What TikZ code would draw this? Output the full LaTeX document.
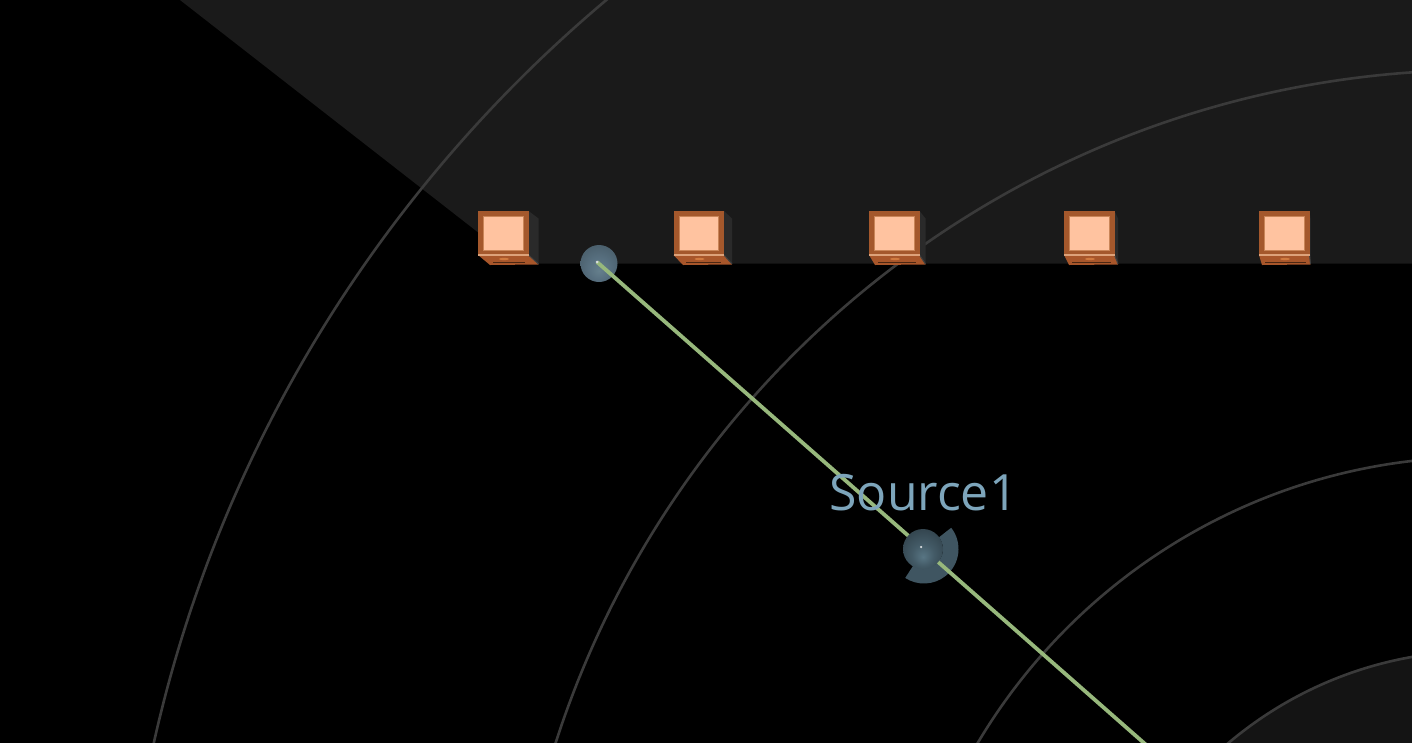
\documentclass[tikz,border=0pt]{standalone}
\usepackage{fontspec}
\setmainfont{Open Sans}
\definecolor{wedge}{HTML}{1A1A1A}
\definecolor{disc}{HTML}{141414}
\definecolor{ringc}{HTML}{3A3A3A}
\definecolor{frame}{HTML}{A4582C}
\definecolor{framelt}{HTML}{C98558}
\definecolor{striplt}{HTML}{DDA27A}
\definecolor{glow}{HTML}{FFC3A0}
\definecolor{under}{HTML}{A8562A}
\definecolor{underlt}{HTML}{D07A40}
\definecolor{sidec}{HTML}{2A2A2A}
\definecolor{beam}{HTML}{97B87C}
\definecolor{labelc}{HTML}{7DA5BB}
\definecolor{arcc}{HTML}{3F5561}
\definecolor{ola}{HTML}{657F8C}
\definecolor{olb}{HTML}{587080}
\definecolor{olc}{HTML}{465A66}
\definecolor{oda}{HTML}{587583}
\definecolor{odb}{HTML}{435A66}
\definecolor{odc}{HTML}{2E3E47}
\pgfdeclareradialshading{orblight}{\pgfpoint{0bp}{-10bp}}{color(0bp)=(ola); color(14bp)=(olb); color(35bp)=(olc); color(50bp)=(olc)}
\pgfdeclareradialshading{orbdark}{\pgfpoint{0bp}{-10bp}}{color(0bp)=(oda); color(14bp)=(odb); color(35bp)=(odc); color(50bp)=(odc)}
\tikzset{
  x=1pt,y=-1pt,
  ringline/.style={draw=ringc,line width=2.6pt},
  sphere/.style={circle,minimum size=#1,inner sep=0pt},
  beamline/.style={draw=beam,line width=3.8pt},
  dot/.style={circle,fill=white!80!arcc,minimum size=3pt,inner sep=0pt},
}
% #1 = left x, #2 = side shift, #3 = bottom-left shift
\newcommand{\cubeat}[3]{%
  \fill[sidec] (#1+50.5,211) -- (#1+50.5+#2,218.5) -- (#1+50.5+#2,264) -- (#1+50.5,255) -- cycle;
  \fill[under] (#1,255) -- (#1+50.5,255) -- (#1+50.5+#2,264.5) -- (#1+#3,265) -- cycle;
  \draw[black!55!under,line width=.9pt] (#1+#3+3,262.5) -- (#1+47,262.5);
  \fill[underlt] (#1+26,259) ellipse[x radius=5,y radius=1.2];
  \draw[black!75,line width=1pt] (#1+50.5,255) -- (#1+50.5+#2,264);
  \fill[frame] (#1,211) rectangle (#1+50.5,254);
  \fill[striplt] (#1,254) rectangle (#1+50.5,255.5);
  \fill[framelt] (#1+5,216) rectangle (#1+45.5,251);
  \fill[glow] (#1+6,217) rectangle (#1+44.5,250);
}
\begin{document}
\begin{tikzpicture}
\useasboundingbox (0,0) rectangle (1412,742);
\fill[black] (-5,-5) rectangle (1417,747);
\fill[wedge] (180,0) -- (180,-5) -- (1417,-5) -- (1417,263.5) -- (518,263.5) -- (180,0) -- cycle;
\coordinate (hub) at (1480,1041);
\fill[disc] (hub) circle[radius=390];
\foreach \r in {390,584,971,1359} \draw[ringline] (hub) circle[radius=\r];
\cubeat{478}{10}{12}
\cubeat{673.5}{8}{9.5}
\cubeat{869}{6}{6}
\cubeat{1064}{3.5}{5}
\cubeat{1259}{1}{3}
% partial ring round the source
\coordinate (ringc) at (924,549);
\fill[arcc,shift={(ringc)}] (38:34.5pt) arc[start angle=38,end angle=-123,radius=34.5pt]
  -- (-123:19pt) arc[start angle=-123,end angle=38,radius=19pt] -- cycle;
\node[sphere=37pt,shading=orblight] (s1) at (599,263.5) {};
\coordinate (s1c) at (597,262);
\coordinate (far) at (1480,1038.5);
\draw[beamline] (s1c) -- (far);
\node[sphere=40pt,shading=orbdark] (s2) at (923,549) {};
\node[dot] (d1) at (s1c) {};
\node[dot,minimum size=2.5pt] (d2) at (921,547) {};
\node[text=labelc,font=\fontsize{50}{50}\selectfont,anchor=base,inner sep=0pt] (lab) at (923.5,510) {Source1};
\end{tikzpicture}
\end{document}
